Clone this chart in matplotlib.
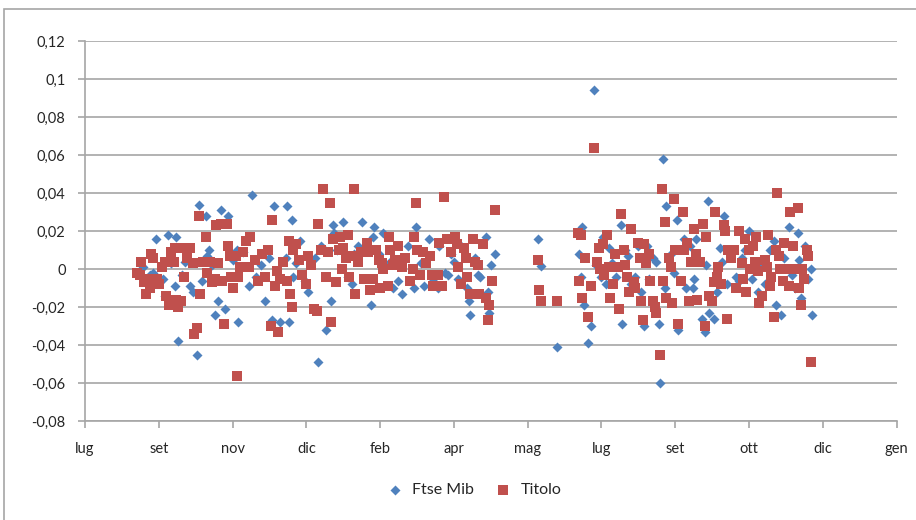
import numpy as np
import matplotlib.pyplot as plt
from matplotlib.patches import Rectangle

plt.rcParams['font.family'] = ['Lato', 'DejaVu Sans']

# Axis labels (date axis, one label every 50 days)
x_labels = ['lug', 'set', 'nov', 'dic', 'feb', 'apr', 'mag', 'lug', 'set', 'ott', 'dic', 'gen']
y_labels = ['-0,08', '-0,06', '-0,04', '-0,02', '0', '0,02', '0,04', '0,06', '0,08', '0,1', '0,12']

# Ftse Mib daily returns (day from axis start, return)
ftse_day = [39, 44, 48, 53, 54, 56, 61, 62, 63, 68, 71, 73, 76, 77, 79, 82, 83, 84, 88, 90,
            92, 95, 97, 103, 104, 107, 111, 113, 119, 122, 127, 128, 132, 136, 137, 138, 140, 141, 146, 151,
            156, 158, 160, 163, 167, 168, 169, 175, 181, 182, 188, 194, 195, 196, 202, 207, 209, 215, 219, 223,
            224, 228, 230, 233, 239, 240, 244, 246, 248, 253, 255, 259, 260, 261, 266, 268, 272, 273, 274, 275,
            278,
            307, 309, 320,
            335, 336, 337, 338, 341, 343, 345, 350, 351, 355, 357, 360, 363, 364, 368, 370, 373, 375, 379, 381,
            382, 387, 389, 390, 392, 393, 394, 397, 401, 402, 406, 407, 412, 413, 414, 418, 420, 421, 422, 423,
            426, 430, 433, 435, 437, 441, 445, 450, 452, 456, 458, 467, 468, 472, 477, 479, 483, 484, 485, 490,
            492, 493,
            # points mostly hidden behind the red squares
            46, 58, 66, 86, 100, 116, 125, 143, 149, 171, 178, 185, 199, 212, 226, 236, 250, 264,
            346, 353, 366, 377, 385, 399, 410, 428, 432, 443, 447, 461, 464, 474, 481, 488]
ftse_ret = [0.001, -0.003, 0.016, -0.005, -0.014, 0.018, -0.009, 0.017, -0.038, 0.004, -0.009, -0.012, -0.045, 0.034, -0.006, 0.028, 0.007, 0.010, -0.024, -0.017,
            0.031, -0.021, 0.028, 0.010, -0.028, 0.009, -0.009, 0.039, 0.002, -0.017, -0.027, 0.033, -0.028, 0.006, 0.033, -0.028, 0.026, -0.004, 0.015, -0.012,
            0.006, -0.049, 0.012, -0.032, -0.017, 0.023, 0.019, 0.025, -0.008, 0.008, 0.025, -0.019, 0.017, 0.022, 0.019, 0.004, -0.010, -0.013, 0.012, -0.010,
            0.022, 0.003, -0.009, 0.016, -0.010, 0.012, -0.002, -0.003, 0.008, -0.005, 0.012, -0.010, -0.017, -0.024, -0.003, -0.004, 0.017, -0.012, -0.023, 0.002,
            0.008,
            0.016, 0.0015, -0.041,
            0.008, -0.004, 0.022, -0.019, -0.039, -0.030, 0.094, -0.004, 0.017, 0.011, 0.003, -0.004, 0.023, -0.029, 0.007, -0.008, -0.004, 0.012, -0.030, 0.012,
            -0.005, 0.004, -0.029, -0.060, 0.058, -0.010, 0.033, 0.008, 0.026, -0.032, 0.016, -0.010, -0.010, -0.005, 0.016, -0.026, -0.033, 0.002, 0.036, -0.023,
            -0.026, 0.011, 0.028, -0.008, 0.008, -0.004, 0.006, 0.020, -0.005, -0.012, 0.004, 0.015, -0.019, -0.024, 0.022, -0.003, 0.019, 0.005, -0.015, -0.005,
            0.000, -0.024,
            -0.002, 0.003, -0.003, 0.002, 0.005, -0.004, 0.006, 0.003, -0.006, 0.010, -0.004, 0.012, 0.008, -0.006, 0.010, -0.006, 0.004, 0.006,
            0.002, -0.008, 0.010, -0.012, 0.006, -0.002, 0.012, -0.012, 0.004, -0.006, 0.010, -0.008, 0.010, 0.006, -0.010, 0.012]

# Titolo daily returns
titolo_day = [35, 37, 40, 41, 42, 45, 46, 49, 50, 52, 54, 55, 57, 60, 61, 62, 63, 65, 66, 67,
              71, 73, 74, 76, 77, 78, 80, 82, 85, 86, 88, 89, 90, 92, 93, 94, 96, 98, 99, 100,
              102, 103, 104, 105, 109, 111, 112, 115, 120, 122, 124, 126, 127, 129, 130, 131, 132, 137, 138, 139,
              140, 141, 143, 145, 150, 151, 155, 157, 158, 160, 161, 163, 165, 166, 167, 168, 172, 173, 174, 175,
              178, 179, 180, 182, 183, 185, 187, 189, 192, 193, 195, 197, 200, 201, 202, 205, 206, 207, 209, 210,
              215, 217, 222, 223, 224, 225, 227, 229, 234, 235, 236, 239, 240, 242, 243, 245, 251, 252, 253, 257,
              258, 259, 261, 263, 266, 267, 270, 272, 273, 274, 278,
              307, 308, 309, 320,
              334, 335, 336, 337, 341, 343, 345, 347, 348, 349, 351, 354, 355, 356, 358, 361, 362, 363, 365, 366,
              367, 370, 372, 373, 376, 377, 378, 379, 380, 382, 385, 386, 387, 390, 391, 392, 393, 394, 397, 398,
              399, 400, 402, 405, 406, 409, 411, 413, 414, 415, 419, 420, 421, 423, 425, 426, 427, 428, 429, 433,
              434, 435, 436, 440, 441, 443, 445, 447, 448, 450, 451, 454, 455, 456, 457, 461, 462, 463, 464, 465,
              467, 469, 470, 471, 474, 476, 477, 478, 482, 483, 484, 485, 486, 489, 490, 492,
              # crowded points in the central band
              38, 44, 58, 69, 83, 97, 107, 117, 134, 147, 153, 170, 177, 191, 199, 212, 220, 231, 248, 255, 264, 276,
              339, 352, 359, 369, 375, 383, 396, 404, 408, 417, 431, 438, 446, 453, 459, 468, 473, 480, 487]
titolo_ret = [-0.002, -0.003, -0.007, -0.013, -0.005, 0.008, 0.006, -0.005, -0.008, 0.001, 0.004, -0.014, -0.019, 0.004, 0.011, -0.016, -0.020, -0.017, 0.011, -0.004,
              0.011, 0.003, -0.034, -0.031, 0.028, -0.013, 0.004, 0.017, 0.004, -0.007, -0.005, 0.023, 0.003, 0.024, -0.006, -0.029, 0.024, 0.007, -0.004, -0.010,
              0.007, -0.056, -0.004, 0.001, 0.015, 0.001, 0.017, 0.005, 0.008, -0.004, 0.010, -0.030, 0.026, -0.009, -0.001, -0.033, -0.005, -0.006, 0.015, -0.013,
              -0.020, 0.010, 0.013, 0.005, -0.008, 0.007, -0.021, -0.022, 0.024, 0.010, 0.042, -0.004, 0.009, 0.035, -0.028, 0.016, 0.010, 0.017, 0.000, 0.011,
              0.018, -0.004, 0.007, 0.042, -0.013, 0.004, 0.009, -0.005, 0.009, -0.011, -0.005, 0.010, -0.010, 0.003, 0.000, -0.009, 0.017, 0.010, 0.002, 0.005,
              0.001, 0.006, 0.000, 0.017, 0.035, 0.010, -0.003, 0.009, 0.007, -0.003, -0.009, -0.003, 0.014, -0.009, 0.038, 0.016, 0.017, 0.013, 0.001, 0.011,
              0.006, -0.004, -0.013, 0.016, 0.002, -0.013, 0.013, -0.015, -0.027, -0.019, 0.031,
              0.005, -0.011, -0.017, -0.017,
              0.019, -0.006, 0.018, -0.015, -0.025, -0.009, 0.064, 0.004, 0.011, 0.000, 0.013, 0.018, 0.001, -0.015, -0.008, 0.001, -0.021, 0.029, 0.010, 0.002,
              -0.004, 0.021, -0.007, -0.010, 0.006, -0.017, -0.027, 0.013, 0.003, 0.008, -0.017, -0.020, -0.023, -0.045, 0.042, -0.006, 0.025, -0.015, 0.001, -0.018,
              0.037, 0.010, -0.029, 0.030, 0.010, -0.017, 0.004, 0.021, 0.008, -0.016, 0.024, -0.030, 0.017, -0.014, -0.017, -0.007, 0.030, -0.004, 0.001, 0.023,
              0.020, -0.026, 0.010, 0.010, -0.010, 0.020, 0.003, 0.016, -0.012, 0.010, 0.000, 0.004, 0.017, -0.001, -0.018, 0.005, 0.001, 0.018, -0.009, -0.004,
              -0.025, 0.040, 0.007, 0.000, 0.014, 0.000, -0.009, 0.030, 0.000, 0.032, -0.010, -0.019, 0.000, 0.010, 0.007, -0.049,
              0.004, -0.010, 0.009, 0.006, -0.002, 0.012, 0.009, -0.006, 0.004, -0.003, 0.002, -0.007, 0.006, 0.014, 0.005, 0.012, -0.006, 0.003, 0.009, -0.008, 0.004, -0.006,
              0.006, -0.003, 0.008, -0.012, 0.014, -0.006, 0.006, -0.006, 0.014, 0.004, -0.008, 0.006, -0.005, 0.012, -0.014, 0.010, -0.006, 0.012, -0.005]

fig = plt.figure(figsize=(9.16, 5.2), dpi=100)
ax = fig.add_axes([0.0928, 0.19, 0.886, 0.731])

# Excel style scatter: blue diamonds under red squares
ax.scatter(ftse_day, ftse_ret, marker='D', s=26, color='#4f81bd', linewidths=0, label='Ftse Mib', zorder=3)
ax.scatter(titolo_day, titolo_ret, marker='s', s=46, color='#c0504d', linewidths=0, label='Titolo', zorder=4)

ax.set_xlim(0, 550)
ax.set_ylim(-0.08, 0.12)
ax.set_xticks(np.arange(0, 551, 50))
ax.set_xticklabels(x_labels)
ax.set_yticks(np.linspace(-0.08, 0.12, 11))
ax.set_yticklabels(y_labels)

ax.grid(axis='y', color='#a6a6a6', linewidth=1.2)
ax.set_axisbelow(True)
for side in ['top', 'right']:
    ax.spines[side].set_visible(False)
for side in ['left', 'bottom']:
    ax.spines[side].set_color('#a6a6a6')
    ax.spines[side].set_linewidth(1.2)
ax.tick_params(axis='both', colors='#a6a6a6', labelcolor='#262626', labelsize=10.5, length=5, width=1.2)
ax.tick_params(axis='x', pad=10)
ax.tick_params(axis='y', pad=9)

# legend at the bottom
fig.legend(loc='center', bbox_to_anchor=(0.513, 0.058), ncol=2, frameon=False, fontsize=11.5,
           handletextpad=0.1, columnspacing=0.8, labelcolor='#262626')

# chart area border
fig.patches.append(Rectangle((0.004, -0.1), 1.1, 1.083, transform=fig.transFigure,
                             fill=False, edgecolor='#a6a6a6', linewidth=1.2))

fig.savefig('out.png', dpi=100)
